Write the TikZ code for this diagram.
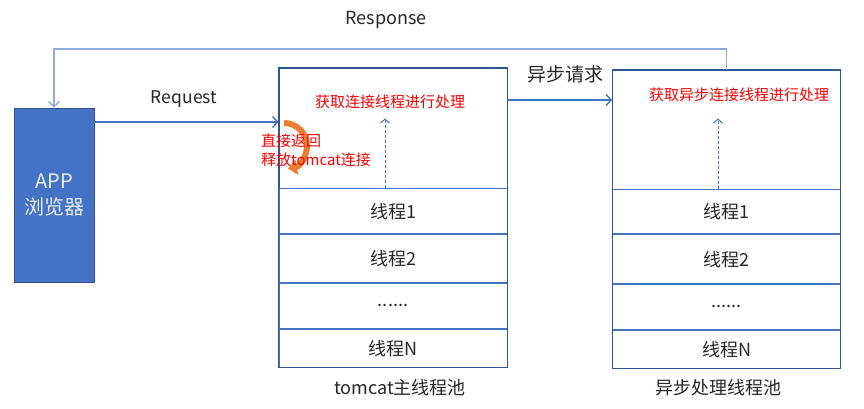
\documentclass[tikz,border=0pt]{standalone}
\usepackage{fontspec}
\setmainfont{Noto Sans CJK SC}
\usetikzlibrary{arrows.meta,positioning}
\definecolor{appblue}{RGB}{68,114,196}
\definecolor{appedge}{RGB}{47,82,143}
\definecolor{poolblue}{RGB}{47,85,151}
\definecolor{respblue}{RGB}{143,170,220}
\definecolor{turnorange}{RGB}{237,125,49}
\definecolor{threadtext}{RGB}{38,38,38}

\tikzset{
  pooltop/.style={draw=poolblue,line width=0.9pt,minimum width=228pt,inner sep=0pt},
  row/.style={draw=appblue,line width=0.8pt,minimum width=228pt,inner sep=0pt,
    text=threadtext,font=\fontsize{18}{20}\selectfont},
  flow/.style={draw=appblue,line width=1.4pt,-{Straight Barb[length=5pt,width=11pt]}},
  resp/.style={draw=respblue,line width=1.4pt,-{Straight Barb[length=5pt,width=11pt]}},
  task/.style={draw=appblue,line width=1pt,dash pattern=on 3pt off 2pt,-{Straight Barb[length=4pt,width=9pt]}},
  lbl/.style={text=threadtext,inner sep=1pt},
  redtext/.style={text=red,inner sep=0pt,font=\fontsize{15}{19}\selectfont}
}

\begin{document}
\begin{tikzpicture}[x=1pt,y=-1pt]
  \useasboundingbox (0,0) rectangle (864,408);
  % client
  \node[draw=appedge,fill=appblue,line width=0.9pt,minimum width=80pt,minimum height=174pt,
    align=center,text=white!88!appblue,font=\fontsize{20}{26}\selectfont] (app) at (54,195) {APP\\浏览器};
  % tomcat pool
  \node[pooltop,minimum height=120pt] (tcTop) at (393,128) {};
  \node[row,minimum height=45pt,below=0pt of tcTop] (tc1) {线程1};
  \node[row,minimum height=48pt,below=0pt of tc1] (tc2) {线程2};
  \node[row,minimum height=45pt,below=0pt of tc2] (tc3) {......};
  \node[row,minimum height=38pt,below=0pt of tc3] (tcN) {线程N};
  \draw[poolblue,line width=0.9pt] (tcTop.north west) rectangle (tcN.south east);
  % async pool
  \node[pooltop,minimum height=119pt] (asTop) at (726.5,129.5) {};
  \node[row,minimum height=44pt,below=0pt of asTop] (as1) {线程1};
  \node[row,minimum height=49pt,below=0pt of as1] (as2) {线程2};
  \node[row,minimum height=45pt,below=0pt of as2] (as3) {......};
  \node[row,minimum height=38pt,below=0pt of as3] (asN) {线程N};
  \draw[poolblue,line width=0.9pt] (asTop.north west) rectangle (asN.south east);
  \node[lbl,font=\fontsize{18}{20}\selectfont] (tcName) at (400,388) {tomcat主线程池};
  \node[lbl,font=\fontsize{18}{20}\selectfont] (asName) at (718,388) {异步处理线程池};
  % request / response
  \coordinate (reqY) at (0,122);
  \coordinate (asyY) at (0,100);
  \coordinate (respY) at (0,49);
  \draw[flow] (app.east |- reqY) -- (reqY -| tcTop.west);
  \node[lbl,font=\fontsize{17.5}{20}\selectfont] (reqLbl) at (184,99) {Request};
  \draw[flow] (tcTop.east |- asyY) -- (asyY -| asTop.west);
  \node[lbl,font=\fontsize{19}{22}\selectfont] (asyLbl) at (565,74) {异步请求};
  \draw[resp] (asTop.north) -- (asTop.north |- respY) -| (app.north);
  \node[lbl,font=\fontsize{18}{20}\selectfont] (respLbl) at (386,20) {Response};
  % work inside the pools
  \node[redtext] (tcTask) at (390,102) {获取连接线程进行处理};
  \node[redtext] (asTask) at (739,95) {获取异步连接线程进行处理};
  \draw[task] ([xshift=-8pt]tc1.north) -- ++(0,-70);
  \draw[task] ([xshift=-8.5pt]as1.north) -- ++(0,-71);
  % release the tomcat thread
  \draw[turnorange,line width=6pt,-{Triangle[length=9pt,width=15pt]}] (284,123) arc[start angle=-90,end angle=80,radius=23];
  \node[redtext,anchor=west,align=left] (backTxt) at (261,150) {直接返回\\释放tomcat连接};
\end{tikzpicture}
\end{document}
